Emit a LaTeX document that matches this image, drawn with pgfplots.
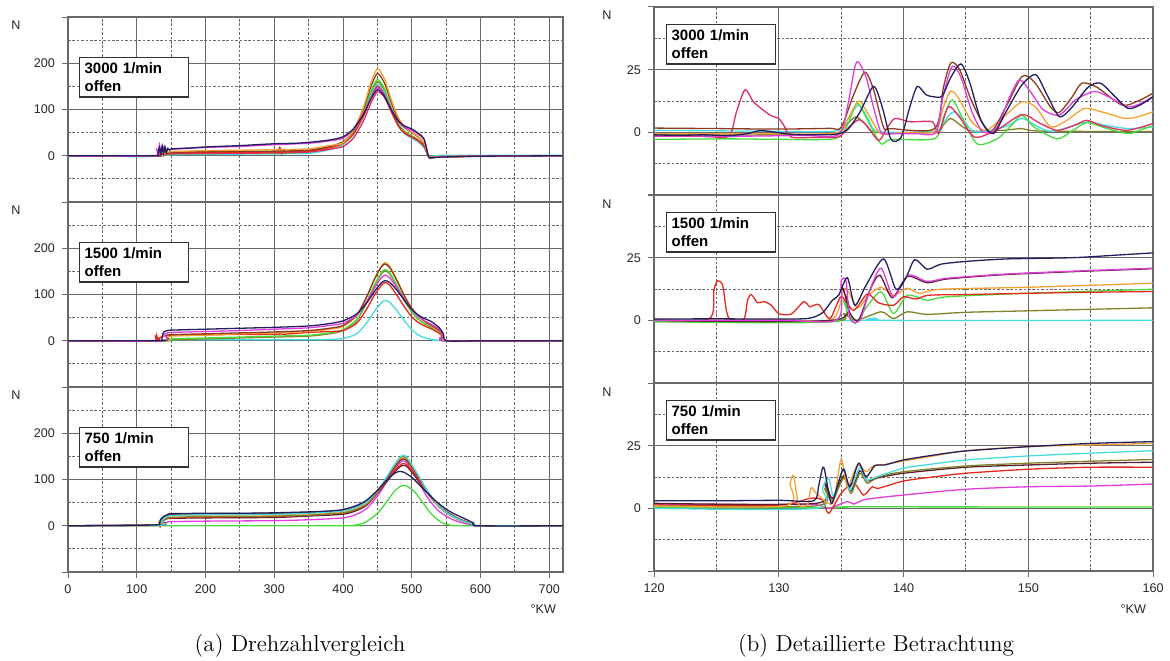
\documentclass[border=0pt]{standalone}
\usepackage{pgfplots}
\pgfplotsset{compat=1.18}
\usepackage{fontspec}
\setsansfont{Liberation Sans}
\definecolor{cnavy}{RGB}{35,30,95}
\definecolor{cmag}{RGB}{225,60,220}
\definecolor{cbrown}{RGB}{140,60,30}
\definecolor{corange}{RGB}{245,160,50}
\definecolor{cred}{RGB}{230,40,30}
\definecolor{ccrim}{RGB}{225,45,95}
\definecolor{cgreen}{RGB}{70,220,60}
\definecolor{ccyan}{RGB}{70,220,225}
\definecolor{colive}{RGB}{130,130,40}
\definecolor{cmaroon}{RGB}{90,30,50}
\definecolor{gridgray}{RGB}{105,105,105}
\pgfplotsset{
  panel/.style={
    scale only axis, anchor=south west,
    axis line style={draw=gridgray, line width=0.55pt},
    grid=both,
    major grid style={draw=gridgray, line width=0.5pt},
    minor grid style={draw=gridgray, dash pattern=on 1.3pt off 0.9pt, line width=0.45pt},
    tick style={draw=gridgray, line width=0.5pt},
    major tick length=3pt, minor tick length=0pt, tick align=outside,
    xtick pos=left, ytick pos=left,
    /pgf/number format/assume math mode=true,
    ticklabel style={font=\sffamily\fontsize{6.3}{7}\selectfont, text=black!85},
    every axis plot/.append style={line width=0.65pt, smooth, tension=0.45, no marks},
  },
  leftpanel/.style={panel, width=247.5pt, height=92.5pt,
    xmin=0, xmax=720, ymin=-100, ymax=300,
    xtick={0,100,...,700}, minor xtick={50,150,...,650},
    ytick={0,100,200}, extra y ticks={-100,300}, extra y tick labels={},
    minor ytick={-50,50,150,250}},
  rightpanel/.style={panel, width=249.5pt, height=94pt,
    xmin=120, xmax=160, ymin=-25, ymax=50,
    xtick={120,130,...,160}, minor xtick={125,135,145,155},
    ytick={0,25}, extra y ticks={-25,50}, extra y tick labels={},
    minor ytick={-12.5,12.5,37.5}},
}
\tikzset{lbl/.style={draw=black!80, fill=white, line width=0.6pt, anchor=north west,
    inner xsep=2.5pt, inner ysep=2.6pt, text width=49.5pt, align=left,
    font=\sffamily\bfseries\fontsize{7.5}{9}\selectfont},
  small/.style={font=\sffamily\fontsize{6.3}{7}\selectfont, text=black!85}}
\begin{document}
\begin{tikzpicture}
\useasboundingbox (0,0) rectangle (585pt,330pt);
% ---------------- left top 3000
\begin{axis}[leftpanel, at={(34pt,229pt)}, xticklabels={}]
\addplot[colive] coordinates {(0,0)(130,0)(140,3)(150,5)(200,7)(300,8)(350,10)(380,19)(400,30)(415,51)(430,92)(440,133)(450,160)(460,142)(470,103)(480,70)(490,52)(500,43)(510,34)(518,22)(524,-1)(527,-4)(540,-2)(600,-1)(720,0)};
\addplot[ccyan] coordinates {(0,0)(100,-2)(130,-1)(140,1)(150,2)(200,3)(300,4)(350,5)(380,13)(400,24)(415,45)(430,88)(440,128)(450,155)(460,137)(470,98)(480,65)(490,47)(500,38)(510,29)(518,17)(524,0)(527,-2)(540,1)(600,1)(720,1)};
\addplot[cgreen] coordinates {(0,0)(100,-1)(130,-1)(140,2)(150,4)(200,5)(300,6)(350,8)(380,18)(400,30)(415,52)(430,94)(440,137)(450,165)(460,146)(470,105)(480,71)(490,52)(500,43)(510,33)(518,21)(524,-2)(527,-6)(540,-3)(600,-1)(720,0)};
\addplot[ccrim] coordinates {(0,0)(130,0)(140,3)(150,4)(200,5)(300,6)(350,8)(380,14)(400,20)(415,38)(430,76)(440,112)(450,138)(460,127)(470,96)(480,66)(490,48)(500,40)(510,32)(518,20)(524,0)(527,-4)(540,-2)(600,-1)(720,0)};
\addplot[cred] coordinates {(0,0)(128,0)(130,12)(132,0)(135,14)(137,2)(140,8)(145,5)(150,6)(200,7)(300,8)(305,8)(308,18)(311,5)(314,12)(317,8)(350,10)(380,17)(400,27)(415,47)(430,86)(440,124)(450,150)(460,133)(470,97)(480,66)(490,49)(500,41)(510,32)(518,21)(524,0)(527,-4)(540,-2)(600,-1)(720,0)};
\addplot[cbrown] coordinates {(0,0)(130,0)(140,4)(150,7)(200,9)(300,10)(350,12)(380,20)(400,30)(415,54)(430,102)(440,147)(450,178)(460,158)(470,116)(480,79)(490,60)(500,50)(510,40)(518,26)(524,0)(527,-4)(540,-2)(600,-1)(720,0)};
\addplot[corange] coordinates {(0,0)(130,0)(140,5)(150,9)(200,11)(250,12)(300,13)(350,15)(380,22)(400,28)(415,55)(430,106)(440,155)(450,188)(460,167)(470,122)(480,84)(490,62)(500,51)(510,41)(518,27)(524,0)(527,-4)(540,-2)(600,-1)(720,0)};
\addplot[cmag] coordinates {(0,0)(127,0)(129,14)(131,2)(133,24)(135,4)(138,20)(141,8)(145,14)(152,14)(200,18)(250,20)(300,24)(350,27)(380,32)(400,38)(415,57)(430,92)(440,124)(450,147)(460,132)(470,101)(480,75)(490,61)(500,55)(510,46)(518,35)(524,0)(527,-5)(540,-3)(600,-1)(720,0)};
\addplot[cnavy] coordinates {(0,0)(125,0)(130,1)(133,18)(135,2)(137,22)(139,4)(141,20)(143,6)(145,16)(148,12)(152,15)(180,17)(200,19)(250,22)(300,26)(330,27)(350,29)(380,34)(400,41)(415,58)(430,90)(440,121)(450,143)(460,129)(470,100)(480,76)(490,64)(500,58)(510,48)(518,36)(524,0)(527,-5)(540,-3)(600,-1)(720,0)};
\end{axis}
% ---------------- left middle 1500
\begin{axis}[leftpanel, at={(34pt,136.5pt)}, xticklabels={}]
\addplot[ccyan] coordinates {(0,0)(140,0)(150,2)(350,2)(380,3)(400,5)(420,15)(435,40)(445,62)(455,81)(461,87)(468,83)(478,66)(490,42)(500,24)(510,12)(520,6)(528,3)(540,1)(551,0)(720,0)};
\addplot[colive] coordinates {(0,0)(140,0)(150,2)(200,4)(250,6)(300,8)(350,10)(380,15)(400,22)(420,44)(435,84)(445,117)(455,143)(461,151)(468,144)(478,119)(490,85)(500,62)(510,46)(520,36)(528,30)(540,18)(546,9)(551,0)(720,0)};
\addplot[cgreen] coordinates {(0,0)(140,0)(150,4)(200,6)(250,8)(300,10)(350,12)(380,17)(400,24)(420,46)(435,86)(445,119)(455,146)(461,154)(468,147)(478,121)(490,86)(500,62)(510,46)(520,35)(528,28)(540,17)(546,8)(551,0)(720,0)};
\addplot[cred] coordinates {(0,0)(126,0)(127,10)(128,2)(129,12)(130,3)(133,5)(138,10)(150,12)(200,13)(300,14)(307,14)(309,20)(311,14)(350,18)(380,20)(400,22)(420,38)(435,70)(445,97)(455,118)(461,126)(468,120)(478,99)(490,72)(500,52)(510,39)(520,31)(528,26)(540,16)(546,8)(551,0)(720,0)};
\addplot[corange] coordinates {(0,0)(138,0)(145,7)(150,10)(200,12)(250,15)(300,17)(350,20)(380,25)(400,31)(420,54)(435,96)(445,131)(455,160)(461,169)(468,161)(478,133)(490,96)(500,70)(510,52)(520,40)(528,32)(540,20)(546,10)(551,0)(720,0)};
\addplot[cbrown] coordinates {(0,0)(137,0)(142,10)(150,13)(200,15)(250,17)(300,19)(350,22)(380,27)(400,33)(420,56)(435,97)(445,131)(455,158)(461,166)(468,158)(478,131)(490,95)(500,70)(510,53)(520,41)(528,34)(540,22)(546,11)(551,0)(720,0)};
\addplot[cmag] coordinates {(0,0)(136,0)(140,14)(145,17)(150,18)(200,20)(250,22)(300,25)(350,28)(380,33)(400,38)(420,55)(435,86)(445,112)(455,135)(461,142)(468,136)(478,115)(490,88)(500,67)(510,52)(520,42)(528,36)(540,24)(546,13)(551,0)(720,0)};
\addplot[cnavy] coordinates {(0,0)(132,0)(136,2)(138,15)(140,20)(145,22)(150,23)(200,25)(250,27)(300,29)(350,32)(380,37)(400,43)(420,58)(435,83)(445,105)(455,124)(461,130)(468,126)(478,110)(490,86)(500,68)(510,55)(520,47)(528,42)(540,28)(546,15)(551,0)(600,0)(720,0)};
\end{axis}
% ---------------- left bottom 750
\begin{axis}[leftpanel, at={(34pt,44pt)}]
\addplot[cgreen] coordinates {(0,0)(395,0)(415,1)(432,7)(451,28)(465,55)(475,75)(486,87)(495,84)(505,72)(515,52)(525,32)(535,16)(545,6)(555,2)(570,0)(720,0)};
\addplot[cmag] coordinates {(0,0)(135,1)(138,4)(145,8)(150,9)(200,10)(300,11)(350,13)(400,17)(420,25)(435,38)(451,66)(462,92)(472,117)(480,132)(486,140)(492,138)(500,120)(510,95)(520,68)(530,47)(540,31)(551,20)(560,13)(570,8)(580,4)(590,2)(598,0)(720,0)};
\addplot[cmaroon] coordinates {(0,0)(134,2)(137,9)(142,14)(150,16)(200,17)(300,18)(350,21)(400,25)(420,33)(435,45)(451,72)(462,92)(472,111)(480,124)(486,130)(492,129)(500,116)(510,97)(520,77)(530,57)(540,41)(551,29)(560,21)(570,14)(580,8)(590,3)(598,0)(720,0)};
\addplot[cred] coordinates {(0,0)(132,1)(133,3)(134,-2)(136,9)(140,14)(150,17)(200,19)(300,20)(350,23)(400,28)(420,36)(435,47)(451,73)(462,94)(472,114)(480,127)(486,134)(492,133)(500,120)(510,100)(520,78)(530,58)(540,41)(551,28)(560,20)(570,13)(580,7)(590,3)(598,0)(720,0)};
\addplot[colive] coordinates {(0,0)(134,1)(137,8)(142,15)(150,18)(200,20)(300,21)(350,23)(400,28)(420,36)(435,48)(451,75)(462,99)(472,123)(480,140)(486,149)(492,147)(500,130)(510,106)(520,80)(530,58)(540,40)(551,27)(560,19)(570,12)(580,7)(590,3)(598,0)(720,0)};
\addplot[corange] coordinates {(0,0)(131,1)(132,8)(133,2)(136,10)(140,17)(150,21)(200,23)(300,24)(350,26)(400,31)(420,39)(435,50)(451,76)(462,99)(472,121)(480,137)(486,146)(492,144)(500,128)(510,105)(520,80)(530,58)(540,41)(551,28)(560,20)(570,13)(580,7)(590,3)(598,0)(720,0)};
\addplot[cbrown] coordinates {(0,0)(133,2)(135,8)(140,19)(150,24)(200,26)(300,27)(350,29)(400,33)(420,41)(435,52)(451,77)(462,99)(472,120)(480,136)(486,144)(492,142)(500,127)(510,105)(520,81)(530,60)(540,43)(551,30)(560,22)(570,14)(580,8)(590,3)(598,0)(720,0)};
\addplot[ccyan] coordinates {(0,0)(133,1)(136,8)(140,17)(150,22)(200,24)(300,25)(350,27)(400,32)(420,40)(435,52)(451,78)(462,102)(472,126)(480,143)(486,152)(492,150)(500,132)(510,108)(520,82)(530,60)(540,42)(551,28)(560,20)(570,13)(580,7)(590,3)(598,0)(720,0)};
\addplot[cnavy] coordinates {(0,0)(100,1)(130,2)(133,3)(134,12)(136,16)(140,21)(145,24)(150,26)(200,27)(250,27)(300,28)(350,30)(380,32)(400,35)(420,44)(435,56)(451,78)(462,96)(472,110)(480,117)(488,116)(500,105)(510,90)(520,75)(530,60)(540,47)(551,35)(560,27)(570,20)(580,13)(590,6)(598,0)(720,0)};
\end{axis}
% ---------------- right top 3000
\begin{axis}[rightpanel, at={(327pt,232.5pt)}, xticklabels={}]
\addplot[colive] coordinates {(120,-1)(130,-1)(134.5,-0.5)(135.4,3)(136.2,6.2)(137,3)(137.8,0)(142.5,0)(143.2,3)(143.8,5.5)(144.8,2)(145.5,0.5)(148,0.8)(149.5,1.5)(151,0.5)(160,0.3)};
\addplot[ccyan] coordinates {(120,0.8)(128,0.5)(134.5,0.5)(135.5,5)(136.4,10.9)(137.2,5)(138,0.3)(142.5,0.5)(143.2,4)(144,8.2)(144.8,5)(145.7,0.2)(148,2)(149.5,5.5)(150.5,3)(151.8,0.3)(153.5,2.5)(154.8,4.2)(156,3)(158,1.5)(160,2.2)};
\addplot[cgreen] coordinates {(120,-2.8)(126,-2.6)(130,-2.8)(134.5,-2.5)(135.5,3)(136.3,11.6)(137.2,4)(138.2,-4.6)(139,-2.8)(142.5,-2.5)(143.2,6)(143.9,12.9)(144.7,6)(145.9,-4.6)(147.5,-2.6)(148.7,3)(149.5,6.9)(150.5,2)(152.3,-2.6)(153.5,0.5)(154.7,3.9)(156,2)(158,-0.5)(159,1)(160,2.6)};
\addplot[ccrim] coordinates {(120,-1.5)(124,-1.6)(126,-1.5)(126.6,8)(127.3,17)(128,12)(129.3,6.9)(130,5.5)(130.5,2)(131,-1.9)(133,-2)(134.8,-1.8)(135.6,2)(136.4,5)(137,3)(138,-3.2)(138.6,1)(139.3,5.5)(140.5,4.2)(142.3,4.2)(142.8,-0.5)(143.6,10.2)(144.5,6)(145.7,-1.9)(147.5,1)(149.5,7.1)(150.8,4)(152.3,0.8)(153.8,3)(154.7,4.8)(156,2.5)(157.8,0.8)(159,2)(160,3.5)};
\addplot[corange] coordinates {(120,-0.5)(128,-0.5)(134.5,-0.3)(135.5,5)(136.4,12.5)(137.2,7)(138.2,-0.5)(140,0)(142.5,0.3)(143.2,10)(143.8,16.5)(144.5,13)(145.5,4)(146.6,0.8)(148,6)(149.5,12.2)(150.6,10)(151.8,2.2)(153,4.5)(154.5,9.5)(156,8)(157.8,5.5)(159,6.5)(160,8.2)};
\addplot[cbrown] coordinates {(120,1.7)(125,1.5)(130,1.3)(134,1.6)(135,2)(136,15)(136.9,24)(137.6,17)(138.4,2)(139,1.5)(142.5,1.5)(143.2,18)(143.8,27.7)(144.5,25)(145.5,12)(146.9,0)(148.2,10)(149.5,22.3)(150.5,20)(151.8,10)(152.5,8)(153.5,14)(154.3,19.6)(155.5,18)(157.5,10.9)(158.8,12.5)(160,15.6)};
\addplot[cmag] coordinates {(120,-1.5)(124,-1.5)(128,-1.5)(132,-1.2)(134.8,-1)(135.5,10)(136.1,26)(136.4,28)(137,22)(137.6,10)(138.2,0)(139,-0.5)(141,-0.5)(142.6,0)(143.2,15)(143.9,26.3)(144.6,22)(145.5,8)(146.4,0)(147.5,2)(148.5,14)(149.3,21)(150.2,16)(151.2,9)(152.5,6.9)(153.8,13)(155.3,16.3)(156.5,14)(158,10.2)(159,11.5)(160,14.2)};
\addplot[cnavy] coordinates {(120,-1)(122,-1.2)(124,-1)(126,-1.3)(127.5,-0.5)(128.5,0.7)(129.5,0.2)(131,-0.8)(133,-1)(134.5,-0.8)(135.5,1)(136.5,8)(137.6,18.3)(138.3,10)(139,-2.8)(139.8,-2)(140.5,10)(141.1,18.3)(141.8,15)(142.4,14.2)(143.1,14.5)(143.8,22)(144.6,27.3)(145.3,20)(146.2,5)(147.2,-0.5)(148.2,8)(149.5,19)(150.6,23)(151.5,15)(152.5,6.2)(153.5,10)(154.8,18)(155.8,19.6)(157,14)(158,9.5)(159,11)(160,14.2)};
\end{axis}
% ---------------- right middle 1500
\begin{axis}[rightpanel, at={(327pt,138.5pt)}, xticklabels={}]
\addplot[ccyan] coordinates {(120,0)(136.8,0)(137.6,0.8)(138.5,0)(160,0)};
\addplot[colive] coordinates {(120,-0.5)(134.3,-0.5)(135.2,2.7)(136.2,0)(138.2,3.4)(139.2,0.7)(140.3,3.4)(141.9,2.4)(145,3.2)(150,3.8)(160,5)};
\addplot[cgreen] coordinates {(120,-0.5)(134.4,-0.5)(135.2,8)(135.6,4)(136.1,-1.3)(137,5)(138.2,11.4)(139.2,2.7)(140.3,10)(141.9,8)(143.5,9.4)(150,10.8)(160,12.4)};
\addplot[corange] coordinates {(120,0)(130,0.2)(134.3,0.5)(135.3,12.8)(136.3,5)(137.2,10)(138.2,13.2)(139.2,10)(140.3,12.8)(141.3,10.8)(143,12.4)(150,13.2)(160,14.8)};
\addplot[cred] coordinates {(120,0.3)(124.4,0.5)(124.8,12)(125.1,15.8)(125.5,14)(125.8,4)(126.1,0.5)(127.2,0.5)(127.5,8)(127.8,10.3)(128.3,7)(128.8,7.5)(129.4,6)(130,2.7)(131,2.5)(132,7.4)(132.5,5.4)(133.2,6.3)(134.1,0.7)(135,9.4)(136,4)(137.1,10.5)(138,7)(139.2,6)(140,9.4)(141,8.5)(142,10)(145,10.3)(150,10.8)(155,11.2)(160,11.5)};
\addplot[cmaroon] coordinates {(120,0)(134.7,0.3)(135.1,13)(135.7,3)(136.4,0)(137.3,12)(138.1,18)(139.1,9)(140.3,17.5)(141.9,15)(143.5,16.5)(148,18.2)(154,19.5)(160,20.6)};
\addplot[cmag] coordinates {(120,0)(130,0)(134.7,0.3)(135,15.5)(135.4,15.5)(135.7,0.7)(136.5,0)(137.3,12)(138.2,20.8)(139.2,9.4)(140.4,18)(141.9,15.5)(143.5,16.8)(148.3,18.5)(154,19.7)(160,20.8)};
\addplot[cnavy] coordinates {(120,0.5)(125,0.6)(130,0.5)(132.4,0.8)(133.5,3)(134.3,8)(134.8,10)(135.5,17)(136.1,6)(137,14)(138.4,24.5)(139.4,12.4)(140.2,17)(140.9,24.2)(141.9,20.4)(143,22.4)(145,23.5)(148.3,24.5)(153.6,25)(157,26)(160,26.9)};
\end{axis}
% ---------------- right bottom 750
\begin{axis}[rightpanel, at={(327pt,44.5pt)}]
\addplot[cgreen] coordinates {(120,0.2)(135,0.3)(136,0.6)(160,0.5)};
\addplot[cmag] coordinates {(120,1.7)(130,1.5)(133,1.5)(134,0)(135.5,2.7)(136,1.7)(137,3.6)(140,5.3)(145,7.6)(150,8.6)(155,8.9)(160,9.7)};
\addplot[cred] coordinates {(120,1.3)(130,1.3)(132.5,4)(133.5,3.3)(134,-2)(135,6)(136,10)(136.8,5.3)(137.5,8.6)(138,8)(140,10.9)(142.5,12.6)(145,14)(150,15.6)(155,16.4)(160,16.4)};
\addplot[cmaroon] coordinates {(120,2)(133,2)(133.7,10)(134.3,4)(135.2,13)(135.8,7)(136.5,15)(137.1,11)(138,12.2)(140,14)(145,16.4)(150,17.3)(155,18)(160,18.4)};
\addplot[colive] coordinates {(120,1)(133,1)(133.7,8)(134.3,3)(135.2,12)(135.8,6)(136.5,14)(137.1,10)(138,12.6)(140,14.6)(145,16.9)(150,18)(155,18.8)(160,19.5)};
\addplot[ccyan] coordinates {(120,0)(133,0)(133.5,8)(134,12)(134.4,5)(135.2,16)(135.7,7.3)(136.5,16.4)(137,11.3)(137.8,12.5)(140,16)(142.5,17.8)(145,19.3)(150,20.9)(155,22)(160,23)};
\addplot[corange] coordinates {(120,1)(130.5,1)(130.9,10)(131.2,12.9)(131.6,1.5)(132.3,1.5)(132.6,8.2)(133,6)(134.3,2)(135,19.5)(135.5,8.6)(136.3,17.3)(137,14.6)(137.6,17)(138.5,17.5)(140,18.9)(142.5,21)(145,23)(150,24.6)(155,25.3)(160,25.9)};
\addplot[cnavy] coordinates {(120,3)(125,3)(130,3.2)(132.8,3)(133.2,9)(133.6,16.4)(134.2,2)(134.7,9)(135.2,15.6)(135.7,8.6)(136.4,18)(137,12.6)(137.7,17)(138.5,17.3)(140,19.3)(142.5,21.3)(145,22.9)(150,24.6)(155,25.9)(160,26.6)};
\end{axis}
% ---------------- annotations
\node[lbl] at (39.5pt,301.5pt) {3000 1/min\\offen};
\node[lbl] at (39.5pt,209pt) {1500 1/min\\offen};
\node[lbl] at (39.5pt,116.5pt) {750 1/min\\offen};
\node[lbl] at (333pt,318pt) {3000 1/min\\offen};
\node[lbl] at (333pt,224pt) {1500 1/min\\offen};
\node[lbl] at (333pt,130pt) {750 1/min\\offen};
\node[small] at (8pt,317.5pt) {N};
\node[small] at (8pt,225pt) {N};
\node[small] at (8pt,132.5pt) {N};
\node[small] at (303.5pt,322.5pt) {N};
\node[small] at (303.5pt,228pt) {N};
\node[small] at (303.5pt,134pt) {N};
\node[small, anchor=east] at (281.5pt,25.5pt) {°KW};
\node[small, anchor=east] at (576.5pt,25.5pt) {°KW};
\node[font=\fontsize{11.5}{13}\selectfont] at (150pt,7pt) {(a)\ Drehzahlvergleich};
\node[font=\fontsize{11.5}{13}\selectfont] at (438pt,7pt) {(b)\ Detaillierte Betrachtung};
\end{tikzpicture}
\end{document}
